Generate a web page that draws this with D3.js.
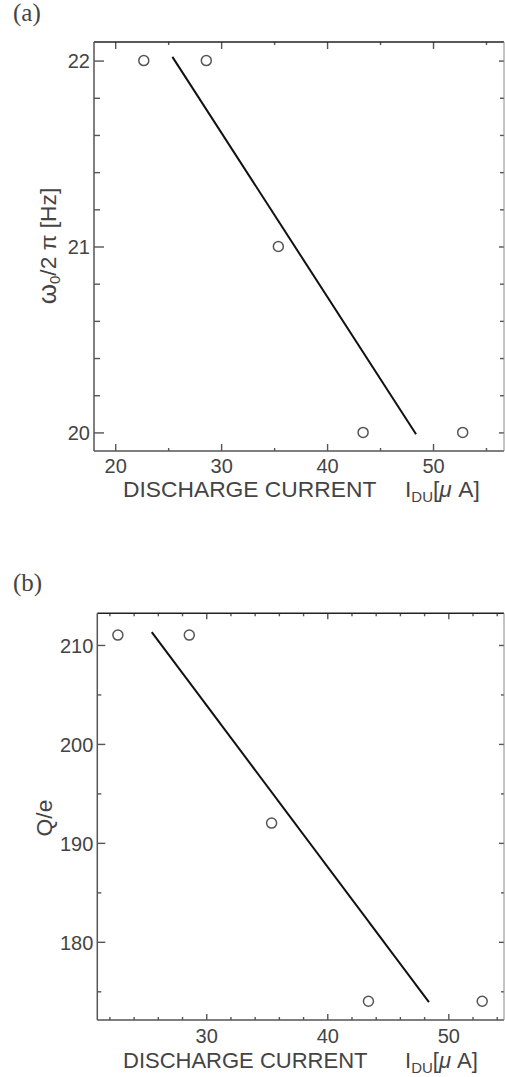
<!DOCTYPE html>
<html>
<head>
<meta charset="utf-8">
<script src="https://cdn.jsdelivr.net/npm/d3@7"></script>
<style>
  body { margin: 0; background: #fff; }
  svg text { font-family: "Liberation Sans", Arial, sans-serif; fill: #444; }
</style>
</head>
<body>
<script>
const current = [22.7, 28.6, 35.4, 43.4, 52.8];   // I_DU [uA]
const freq = [22, 22, 21, 20, 20];                 // w0/2pi [Hz]
const charge = [211, 211, 192, 174, 174];          // Q/e

// fitted straight lines, end points
const fitFreqX = [25.4, 48.4];
const fitFreqY = [22.02, 19.99];
const fitChargeX = [25.5, 48.4];
const fitChargeY = [211.3, 173.9];

// ticks
const xMajorA = [20, 30, 40, 50];
const xMinorA = [25, 35, 45, 55];
const yMajorA = [20, 21, 22];
const yMinorA = [20.2, 20.4, 20.6, 20.8, 21.2, 21.4, 21.6, 21.8];

const xMajorB = [30, 40, 50];
const xMinorB = [22, 24, 26, 28, 32, 34, 36, 38, 42, 44, 46, 48, 52, 54];
const yMajorB = [180, 190, 200, 210];
const yMinorB = [175, 185, 195, 205];

const width = 505, height = 1077;

let svg = d3.select('body')
  .append('svg')
  .attr('width', width)
  .attr('height', height);

function drawPanel(p) {
  const x = d3.scaleLinear().domain(p.xDomain).range([p.left, p.right]);
  const y = d3.scaleLinear().domain(p.yDomain).range([p.bottom, p.top]);
  const g = svg.append('g');

  // tick marks, all pointing inwards
  function ticks(axis, vals, len, tr, labels) {
    let a = g.append('g')
      .attr('transform', tr)
      .call(axis.tickValues(vals).tickSizeInner(-len).tickSizeOuter(0)
        .tickFormat(labels ? d3.format('d') : ''));
    a.select('.domain').remove();
    a.selectAll('line').attr('stroke', '#555').attr('stroke-width', 1.4);
    return a;
  }

  let bx = ticks(d3.axisBottom(x), p.xMajor, p.xt[0], `translate(0,${p.bottom})`, true);
  ticks(d3.axisBottom(x), p.xMinor, p.xt[1], `translate(0,${p.bottom})`, false);
  ticks(d3.axisTop(x), p.xMajor, p.tt[0], `translate(0,${p.top})`, false);
  ticks(d3.axisTop(x), p.xMinor, p.tt[1], `translate(0,${p.top})`, false);
  let ly = ticks(d3.axisLeft(y), p.yMajor, p.yt[0], `translate(${p.left},0)`, true);
  ticks(d3.axisLeft(y), p.yMinor, p.yt[1], `translate(${p.left},0)`, false);
  ticks(d3.axisRight(y), p.yMajor, p.rt[0], `translate(${p.right},0)`, false);
  ticks(d3.axisRight(y), p.yMinor, p.rt[1], `translate(${p.right},0)`, false);

  bx.selectAll('text')
    .attr('y', p.xLabelOff).attr('dy', 0)
    .style('font-size', '20px').attr('fill', '#444');
  ly.selectAll('text')
    .attr('x', -4).attr('dy', '0.36em')
    .style('font-size', '20px').attr('fill', '#444');

  // frame
  g.append('line').attr('x1', p.left).attr('x2', p.right).attr('y1', p.top).attr('y2', p.top)
    .attr('stroke', '#222').attr('stroke-width', 1.6);
  g.append('line').attr('x1', p.left).attr('x2', p.right).attr('y1', p.bottom).attr('y2', p.bottom)
    .attr('stroke', '#555').attr('stroke-width', 1.5);
  g.append('line').attr('x1', p.left).attr('x2', p.left).attr('y1', p.top).attr('y2', p.bottom)
    .attr('stroke', '#555').attr('stroke-width', 1.5);
  g.append('line').attr('x1', p.right).attr('x2', p.right).attr('y1', p.top).attr('y2', p.bottom)
    .attr('stroke', '#888').attr('stroke-width', 1);

  // fit line
  g.append('line')
    .attr('x1', x(p.fitX[0])).attr('y1', y(p.fitY[0]))
    .attr('x2', x(p.fitX[1])).attr('y2', y(p.fitY[1]))
    .attr('stroke', '#111').attr('stroke-width', 2);

  // points
  g.selectAll('circle.pt')
    .data(current)
    .enter()
    .append('circle')
    .attr('cx', d => x(d))
    .attr('cy', (d, i) => y(p.values[i]))
    .attr('r', 5)
    .attr('fill', 'none')
    .attr('stroke', '#555')
    .attr('stroke-width', 1.5);

  // panel letter
  svg.append('text')
    .attr('x', 13).attr('y', p.letterY)
    .style('font-family', '"Liberation Serif", "Times New Roman", serif')
    .style('font-size', '25px')
    .attr('fill', '#111')
    .text(p.letter);

  // x title
  let xt = svg.append('text')
    .attr('x', 123).attr('y', p.titleY)
    .style('font-size', p.titleSize);
  xt.append('tspan').text('DISCHARGE CURRENT');
  xt.append('tspan').attr('x', 405).text('I');
  xt.append('tspan').attr('dy', 5).style('font-size', '15px').text('DU');
  xt.append('tspan').attr('dy', -5).text('[');
  xt.append('tspan').style('font-style', 'italic').text('μ');
  xt.append('tspan').text(' A]');

  // y title
  let yt = svg.append('text')
    .attr('transform', `translate(${p.yTitleX},${p.yTitleY}) rotate(-90)`)
    .style('text-anchor', 'middle')
    .style('font-size', '22.8px');
  p.yTitle(yt);
}

drawPanel({
  letter: '(a)', letterY: 21,
  left: 94, right: 504, top: 42, bottom: 451,
  xDomain: [18, 56.7], yDomain: [19.9, 22.1],
  xMajor: xMajorA, xMinor: xMinorA, yMajor: yMajorA, yMinor: yMinorA,
  xt: [7, 3], tt: [7, 3], yt: [10, 6], rt: [5, 4],
  xLabelOff: 22, titleY: 497, titleSize: '22.8px',
  values: freq, fitX: fitFreqX, fitY: fitFreqY,
  yTitleX: 56, yTitleY: 246,
  yTitle: t => {
    t.append('tspan').style('font-size', '26px').text('ω');
    t.append('tspan').attr('dy', 4).style('font-size', '15px').text('0');
    t.append('tspan').attr('dy', -4).text('/2 π  [Hz]');
  }
});

drawPanel({
  letter: '(b)', letterY: 591,
  left: 97.3, right: 504, top: 613.3, bottom: 1020,
  xDomain: [21, 54.6], yDomain: [172.1, 213.2],
  xMajor: xMajorB, xMinor: xMinorB, yMajor: yMajorB, yMinor: yMinorB,
  xt: [6, 3], tt: [6, 3], yt: [8, 4], rt: [5, 3],
  xLabelOff: 23, titleY: 1068, titleSize: '22px',
  values: charge, fitX: fitChargeX, fitY: fitChargeY,
  yTitleX: 52, yTitleY: 818,
  yTitle: t => { t.text('Q/e'); }
});
</script>
</body>
</html>
